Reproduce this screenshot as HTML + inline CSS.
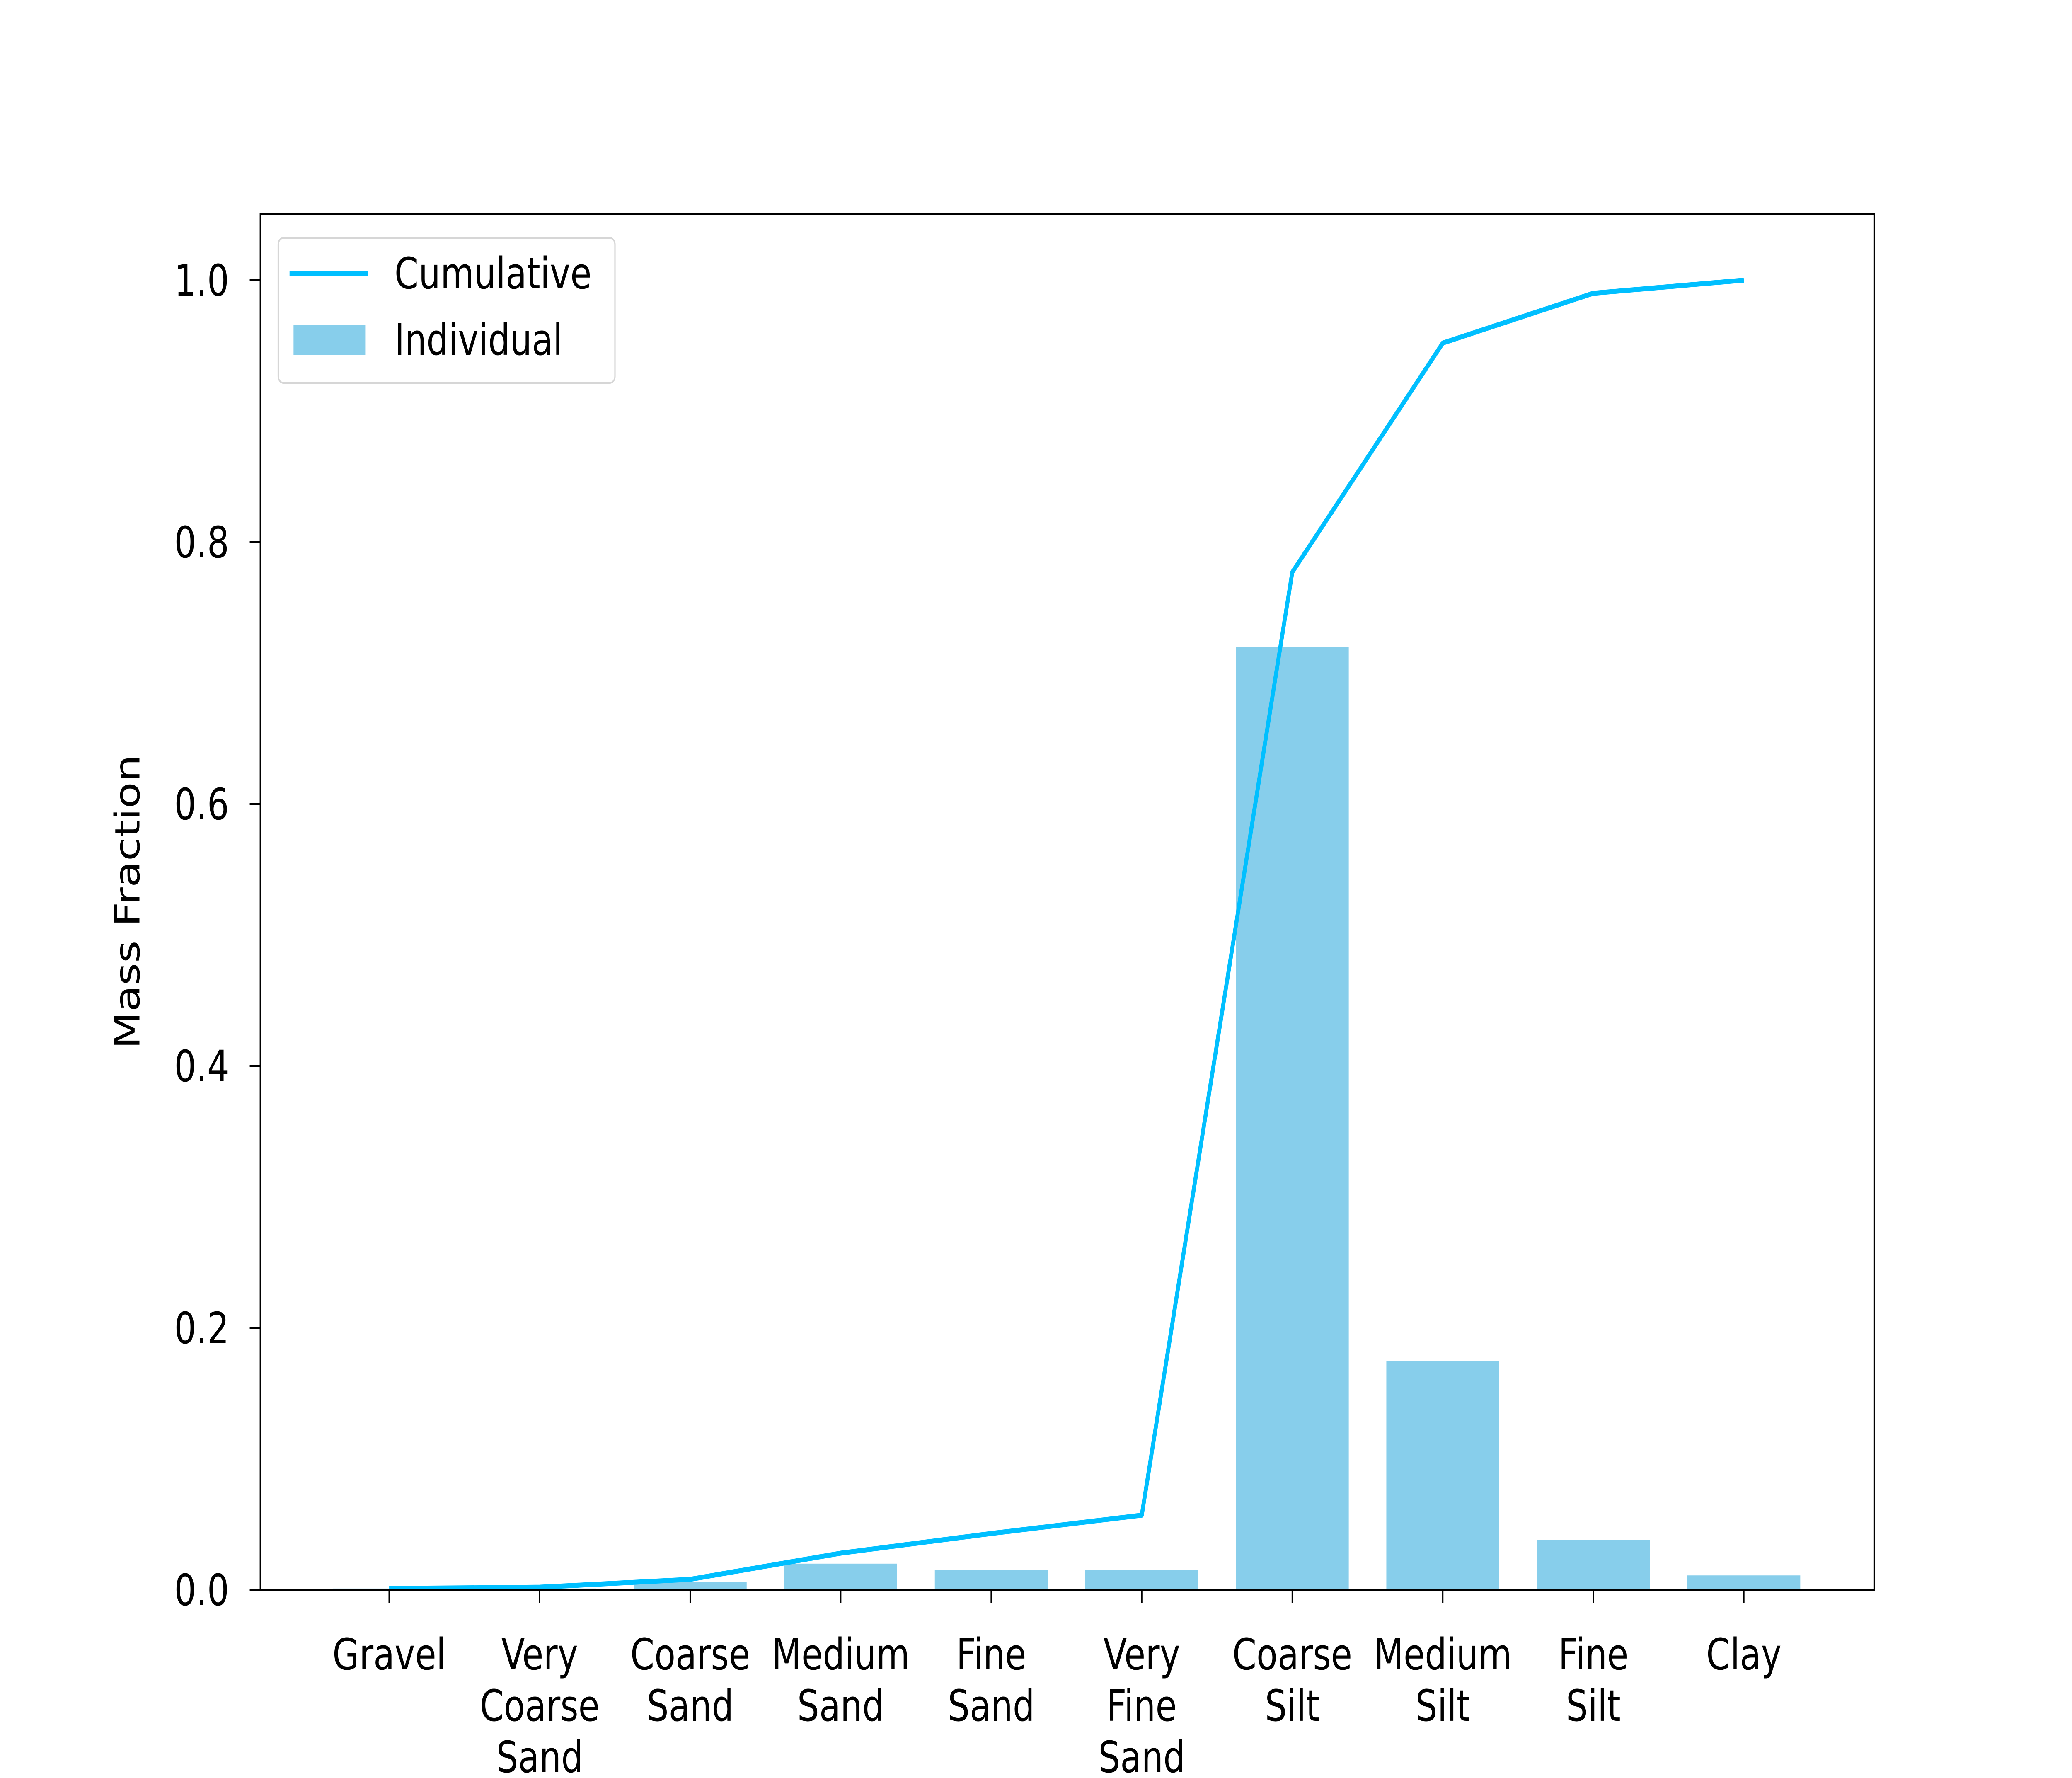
<!DOCTYPE html>
<html><head><meta charset="utf-8"><style>
html,body{margin:0;padding:0;background:#fff;width:100%;height:100%;overflow:hidden}
svg{display:block;width:100vw;height:100vh}
text{font-family:"DejaVu Sans","Liberation Sans",sans-serif;fill:#000}
</style></head><body>
<svg id="chart" viewBox="0 0 6240 4290" preserveAspectRatio="none" xmlns="http://www.w3.org/2000/svg">
<rect width="6240" height="4290" fill="#fff"/>
<g id="bars"></g>
<g id="line"></g>
<g id="yaxis"></g>
<g id="xaxis"></g>
<rect x="784" y="516" width="4860" height="3320" fill="none" stroke="#000" stroke-width="4"/>
<text x="420" y="2176" font-size="104" text-anchor="middle" transform="rotate(-90 420 2176)">Mass Fraction</text>
<g>
<rect x="838" y="574" width="1014" height="350" rx="16" fill="#fff" stroke="#d6d6d6" stroke-width="4"/>
<line x1="872" y1="660" x2="1108" y2="660" stroke="#00bfff" stroke-width="12"/>
<text x="1188" y="696" font-size="104">Cumulative</text>
<rect x="884" y="784" width="216" height="72" fill="#87ceeb"/>
<text x="1188" y="856" font-size="104">Individual</text>
</g>
</svg>
<script>
const categories = [["Gravel"],["Very","Coarse","Sand"],["Coarse","Sand"],["Medium","Sand"],["Fine","Sand"],["Very","Fine","Sand"],["Coarse","Silt"],["Medium","Silt"],["Fine","Silt"],["Clay"]];
const individual = [0.001,0.001,0.006,0.020,0.015,0.015,0.720,0.175,0.038,0.011];
const cumulative = [0.001,0.002,0.008,0.028,0.043,0.057,0.777,0.952,0.990,1.000];
const yTicks = [0.0,0.2,0.4,0.6,0.8,1.0];
const yTickLabels = ["0.0","0.2","0.4","0.6","0.8","1.0"];

const NS = "http://www.w3.org/2000/svg";
const X0 = 1172, STEP = 453.3, Y0 = 3836, YSCALE = 3160, BARW = 340;
function xPos(i){ return X0 + i*STEP; }
function yPos(v){ return Y0 - v*YSCALE; }
function mk(tag, attrs, parent){ const e=document.createElementNS(NS,tag); for(const k in attrs) e.setAttribute(k,attrs[k]); parent.appendChild(e); return e; }

const bars = document.getElementById('bars');
individual.forEach((v,i)=>{
  const r = mk('rect',{x:xPos(i)-BARW/2,y:yPos(v),width:BARW,height:Y0-yPos(v),fill:'#87ceeb'},bars);
  
  
});

const lineG = document.getElementById('line');
const pts = cumulative.map((v,i)=>xPos(i)+','+yPos(v)).join(' ');
const pl = mk('polyline',{points:pts,fill:'none',stroke:'#00bfff','stroke-width':12,'stroke-linejoin':'round'},lineG);



const ya = document.getElementById('yaxis');
yTicks.forEach((t,i)=>{
  const tk = mk('line',{x1:784,x2:752,y1:yPos(t),y2:yPos(t),stroke:'#000','stroke-width':4},ya);
  
  
  const tx = mk('text',{x:690,y:yPos(t)+37,'font-size':104,'text-anchor':'end'},ya);
  tx.textContent = yTickLabels[i];
  
  
});

const xa = document.getElementById('xaxis');
categories.forEach((c,i)=>{
  const tk = mk('line',{x1:xPos(i),x2:xPos(i),y1:3836,y2:3868,stroke:'#000','stroke-width':4},xa);
  
  
  const tx = mk('text',{x:xPos(i),y:4028,'font-size':104,'text-anchor':'middle'},xa);
  
  
  c.forEach((w,j)=>{
    const ts = mk('tspan',{x:xPos(i),y:4028+j*124},tx);
    ts.textContent = w;
  });
});
</script>
</body></html>
